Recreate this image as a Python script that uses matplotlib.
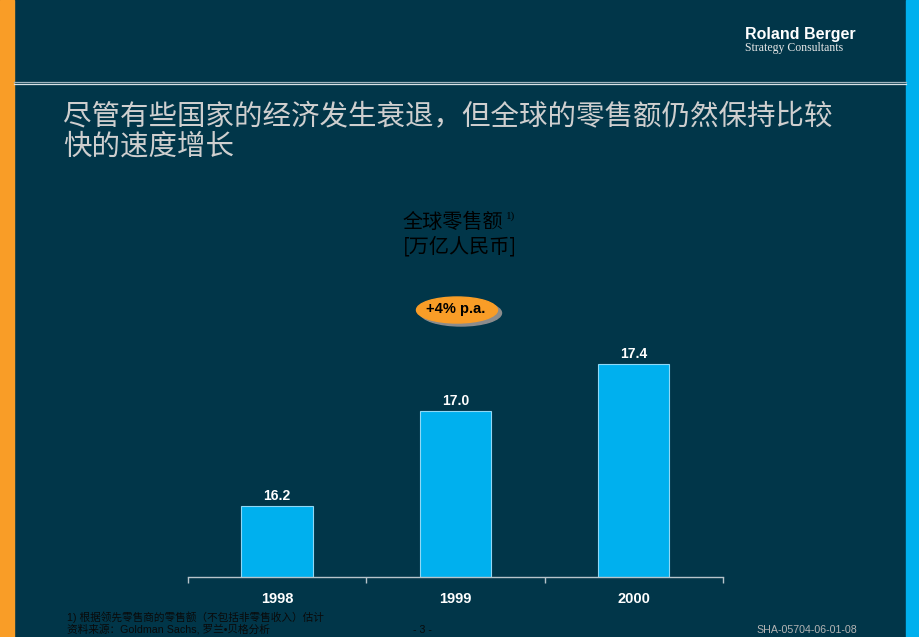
import matplotlib
matplotlib.use('Agg')
import matplotlib.pyplot as plt
from matplotlib.patches import Rectangle, Ellipse
from matplotlib.lines import Line2D

plt.rcParams['font.family'] = ['Liberation Sans', 'Noto Sans CJK SC', 'DejaVu Sans']

# data
years = ['1998', '1999', '2000']
sales = [16.2, 17.0, 17.4]
value_labels = ['16.2', '17.0', '17.4']
growth_label = '+4% p.a.'

title_lines = ['尽管有些国家的经济发生衰退，但全球的零售额仍然保持比较', '快的速度增长']
chart_title = '全球零售额'
chart_unit = '[万亿人民币]'
footnote_1 = '1) 根据领先零售商的零售额（不包括非零售收入）估计'
footnote_2 = '资料来源：Goldman Sachs, 罗兰•贝格分析'

BG = '#013649'
ORANGE = '#f99d27'
CYAN = '#00b0ee'
W, H = 920, 637

def fx(px):
    return px / W

def fy(py):
    return 1 - py / H

fig = plt.figure(figsize=(9.2, 6.37), dpi=100, facecolor=BG)

# side strips
fig.add_artist(Rectangle((0, 0), fx(14), 1, transform=fig.transFigure, color=ORANGE, zorder=0))
fig.add_artist(Rectangle((fx(906), 0), fx(14), 1, transform=fig.transFigure, color=CYAN, zorder=0))

# header lines
fig.add_artist(Line2D([fx(14), fx(906)], [fy(81.5), fy(81.5)], transform=fig.transFigure, color='#9fb4be', lw=0.9))
fig.add_artist(Line2D([fx(14), fx(906)], [fy(84), fy(84)], transform=fig.transFigure, color='#d8e2e6', lw=0.9))

# logo
fig.text(fx(745), fy(34), 'Roland Berger', color='white', fontsize=11.5, fontweight='bold',
         family=['Liberation Sans'], va='center', ha='left')
fig.text(fx(745), fy(48.5), 'Strategy Consultants', color='#e8e8e8', fontsize=8.5,
         family=['Liberation Serif'], va='center', ha='left')

# slide title
for i, line in enumerate(title_lines):
    fig.text(fx(63), fy(117 + 30 * i), line, color='#cfcfcf', fontsize=20.5,
             family=['Noto Sans CJK SC', 'DejaVu Sans'], va='center', ha='left')

# chart title
fig.text(fx(453), fy(222), chart_title, color='black', fontsize=14.5, fontweight='medium',
         family=['Noto Sans CJK SC'], va='center', ha='center')
fig.text(fx(506), fy(216), '1)', color='black', fontsize=8,
         family=['Liberation Serif'], va='center', ha='left')
fig.text(fx(460), fy(247), chart_unit, color='black', fontsize=14.5, fontweight='medium',
         family=['Noto Sans CJK SC'], va='center', ha='center')

# growth bubble
fig.add_artist(Ellipse((fx(461), fy(313)), fx(81), 26 / H, transform=fig.transFigure,
                       color='#8c8c8c', zorder=1))
fig.add_artist(Ellipse((fx(457), fy(310)), fx(81), 26 / H, transform=fig.transFigure,
                       color=ORANGE, zorder=2))
fig.text(fx(456), fy(309), growth_label, color='black', fontsize=10.5, fontweight='bold',
         va='center', ha='center', zorder=3)

# bars
ax = fig.add_axes([fx(188), fy(577), fx(723) - fx(188), (577 - 330) / H])
ax.set_facecolor('none')
x = list(range(len(years)))
bars = ax.bar(x, sales, width=0.40, color=CYAN, edgecolor='#8fd8f5', linewidth=0.8, zorder=2)
ax.bar_label(bars, labels=value_labels, padding=2.5, color='white', fontsize=10, fontweight='bold')
ax.set_xlim(-0.5, 2.5)
ax.set_ylim(15.6, 15.6 + 247 / 118.3)

for s in ['top', 'right', 'left']:
    ax.spines[s].set_visible(False)
ax.spines['bottom'].set_color('#b8c4ca')
ax.spines['bottom'].set_linewidth(1.0)
ax.set_yticks([])
ax.set_xticks([-0.5, 0.5, 1.5, 2.5])
ax.set_xticklabels([])
ax.tick_params(axis='x', which='major', direction='out', length=4, color='#b8c4ca', width=1.0)
ax.set_xticks(x, minor=True)
ax.set_xticklabels(years, minor=True)
ax.tick_params(axis='x', which='minor', length=0, pad=11, labelcolor='white', labelsize=10.5)
for lbl in ax.get_xticklabels(minor=True):
    lbl.set_fontweight('bold')

# footer
fig.text(fx(67), fy(617), footnote_1, color='#0a0a0a', fontsize=7.7, va='center', ha='left')
fig.text(fx(67), fy(629), footnote_2, color='#0a0a0a', fontsize=7.7, va='center', ha='left')
fig.text(fx(422), fy(630), '- 3 -', color='#0a0a0a', fontsize=7.7, va='center', ha='center')
fig.text(fx(756), fy(630), 'SHA-05704-06-01-08', color='#b4b4b4', fontsize=7.7, va='center', ha='left')

fig.savefig('out.png', dpi=100, facecolor=BG)
